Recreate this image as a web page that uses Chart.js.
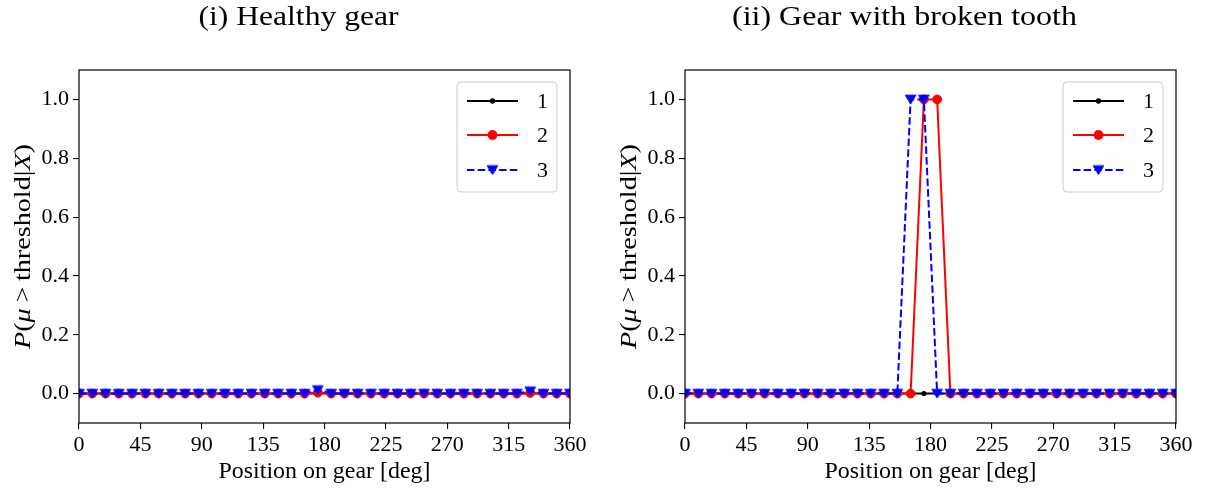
<!DOCTYPE html>
<html>
<head>
<meta charset="utf-8">
<script src="https://cdn.jsdelivr.net/npm/chart.js@4.4.1/dist/chart.umd.min.js"></script>
<style>
html,body{margin:0;padding:0;background:#fff;}
#wrap{position:relative;width:1205px;height:489px;}
canvas{position:absolute;top:0;}
</style>
</head>
<body>
<div id="wrap">
<canvas id="c1" width="602" height="489" style="left:0px"></canvas>
<canvas id="c2" width="603" height="489" style="left:602px"></canvas>
</div>
<script>
// Positions on gear (deg)
const positions = [0, 9.73, 19.46, 29.19, 38.92, 48.65, 58.38, 68.11, 77.84, 87.57,
  97.30, 107.03, 116.76, 126.49, 136.22, 145.95, 155.68, 165.41, 175.14, 184.86,
  194.59, 204.32, 214.05, 223.78, 233.51, 243.24, 252.97, 262.70, 272.43, 282.16,
  291.89, 301.62, 311.35, 321.08, 330.81, 340.54, 350.27, 360];

// (i) Healthy gear
const healthy1 = [0,0,0,0,0,0,0,0,0,0, 0,0,0,0,0,0,0,0,0,0, 0,0,0,0,0,0,0,0,0,0, 0,0,0,0,0,0,0,0];
const healthy2 = [0,0,0,0,0,0,0,0,0,0, 0,0,0,0,0,0,0,0,0.003,0, 0,0,0,0,0,0,0,0,0,0, 0,0,0,0,0.002,0,0,0];
const healthy3 = [0,0,0,0,0,0,0,0,0,0, 0,0,0,0,0,0,0,0,0.012,0, 0,0,0,0,0,0,0,0,0,0, 0,0,0,0,0.008,0,0,0];

// (ii) Gear with broken tooth
const broken1 = [0,0,0,0,0,0,0,0,0,0, 0,0,0,0,0,0,0,0,0,0, 0,0,0,0,0,0,0,0,0,0, 0,0,0,0,0,0,0,0];
const broken2 = [0,0,0,0,0,0,0,0,0,0, 0,0,0,0,0,0,0,0,1,1, 0,0,0,0,0,0,0,0,0,0, 0,0,0,0,0,0,0,0];
const broken3 = [0,0,0,0,0,0,0,0,0,0, 0,0,0,0,0,0,0,1,1,0, 0,0,0,0,0,0,0,0,0,0, 0,0,0,0,0,0,0,0];

const xTicks = [0, 45, 90, 135, 180, 225, 270, 315, 360];
const yTicks = [0.0, 0.2, 0.4, 0.6, 0.8, 1.0];
const seriesLabels = ['1', '2', '3'];
const titles = ['(i) Healthy gear', '(ii) Gear with broken tooth'];
const xLabel = 'Position on gear [deg]';

const FONT = '"Liberation Serif", "Times New Roman", serif';

// down-triangle marker image
function makeTri(){
  const c = document.createElement('canvas');
  c.width = 13; c.height = 13;
  const g = c.getContext('2d');
  g.fillStyle = '#0000ff'; g.strokeStyle = '#0000ff'; g.lineWidth = 1;
  g.beginPath(); g.moveTo(1.2, 2.2); g.lineTo(11.8, 2.2); g.lineTo(6.5, 11); g.closePath();
  g.fill(); g.stroke();
  return c;
}
const triImg = makeTri();

function pts(arr){ return positions.map((x, i) => ({x: x, y: arr[i]})); }

function datasets(s1, s2, s3){
  return [
    {label: seriesLabels[2], data: pts(s3), borderColor: '#0000ff', backgroundColor: '#0000ff',
     borderWidth: 2, borderDash: [7.5, 3.2], pointStyle: triImg, pointRadius: 5, order: 0, clip: 0},
    {label: seriesLabels[1], data: pts(s2), borderColor: '#ff0000', backgroundColor: '#ff0000',
     borderWidth: 2, pointStyle: 'circle', pointRadius: 4.4, pointBorderWidth: 1, order: 1, clip: 0},
    {label: seriesLabels[0], data: pts(s1), borderColor: '#000000', backgroundColor: '#000000',
     borderWidth: 2, pointStyle: 'circle', pointRadius: 2.2, pointBorderWidth: 1, order: 2, clip: 0}
  ];
}

function fitText(ctx, text, x, y, target){
  const w = ctx.measureText(text).width;
  const s = target ? target / w : 1;
  ctx.save(); ctx.translate(x, y); ctx.scale(s, 1);
  ctx.textAlign = 'center'; ctx.fillText(text, 0, 0); ctx.restore();
}

function decorPlugin(title, titleWidth){
  return {
    id: 'decor',
    afterDatasetsDraw(chart){
      const ctx = chart.ctx, ca = chart.chartArea;
      ctx.save();
      ctx.strokeStyle = '#000'; ctx.lineWidth = 1.2;
      ctx.strokeRect(ca.left, ca.top, ca.right - ca.left, ca.bottom - ca.top);
      ctx.restore();
    },
    afterDraw(chart){
      const ctx = chart.ctx, ca = chart.chartArea;
      const cx = (ca.left + ca.right) / 2, cy = (ca.top + ca.bottom) / 2;
      ctx.save();
      ctx.fillStyle = '#000';
      ctx.textBaseline = 'alphabetic';
      // Title
      ctx.font = '28px ' + FONT;
      fitText(ctx, title, cx - 26, 25, titleWidth);
      // X label
      ctx.font = '24px ' + FONT;
      fitText(ctx, xLabel, cx, 478, 212);
      // Y label with math italics
      const parts = [
        ['P', true], ['(', false], ['\u03BC', true], ['\u2009>\u2009', false],
        ['threshold', false], ['|', false], ['X', true], [')', false]
      ];
      let total = 0;
      const widths = parts.map(p => {
        ctx.font = (p[1] ? 'italic ' : '') + '24px ' + FONT;
        const w = ctx.measureText(p[0]).width; total += w; return w;
      });
      const target = 205, sc = target / total;
      ctx.translate(ca.left - 57 + 8, cy);
      ctx.rotate(-Math.PI / 2);
      ctx.scale(sc, 1);
      let xx = -total / 2;
      ctx.textAlign = 'left';
      parts.forEach((p, i) => {
        ctx.font = (p[1] ? 'italic ' : '') + '24px ' + FONT;
        ctx.fillText(p[0], xx, 0);
        xx += widths[i];
      });
      ctx.restore();

      // Legend
      ctx.save();
      const bx = ca.right - 113, by = ca.top + 12, bw = 100, bh = 110, r = 4;
      ctx.beginPath();
      ctx.moveTo(bx + r, by); ctx.lineTo(bx + bw - r, by); ctx.quadraticCurveTo(bx + bw, by, bx + bw, by + r);
      ctx.lineTo(bx + bw, by + bh - r); ctx.quadraticCurveTo(bx + bw, by + bh, bx + bw - r, by + bh);
      ctx.lineTo(bx + r, by + bh); ctx.quadraticCurveTo(bx, by + bh, bx, by + bh - r);
      ctx.lineTo(bx, by + r); ctx.quadraticCurveTo(bx, by, bx + r, by);
      ctx.closePath();
      ctx.fillStyle = 'rgba(255,255,255,0.8)'; ctx.fill();
      ctx.strokeStyle = '#cccccc'; ctx.lineWidth = 1; ctx.stroke();
      const rows = [ca.top + 31, ca.top + 65, ca.top + 100];
      const lx0 = ca.right - 103, lx1 = ca.right - 52, mx = ca.right - 77.5;
      const cols = ['#000000', '#ff0000', '#0000ff'];
      rows.forEach((yy, i) => {
        ctx.strokeStyle = cols[i]; ctx.lineWidth = 2;
        ctx.setLineDash(i === 2 ? [7.5, 3.2] : []);
        ctx.beginPath(); ctx.moveTo(lx0, yy); ctx.lineTo(lx1, yy); ctx.stroke();
        ctx.setLineDash([]);
        ctx.fillStyle = cols[i];
        if (i === 2) {
          ctx.drawImage(triImg, mx - 6.5, yy - 6.5);
        } else {
          const rad = i === 0 ? 2.7 : 4.9;
          ctx.beginPath(); ctx.arc(mx, yy, rad, 0, Math.PI * 2); ctx.fill();
        }
        ctx.fillStyle = '#000';
        ctx.font = '22px ' + FONT;
        ctx.textAlign = 'left'; ctx.textBaseline = 'middle';
        ctx.fillText(seriesLabels[i], ca.right - 33, yy + 1);
      });
      ctx.restore();
    }
  };
}

function makeChart(id, s1, s2, s3, title, titleWidth, padRight, yWidth){
  return new Chart(document.getElementById(id), {
    type: 'line',
    data: {datasets: datasets(s1, s2, s3)},
    options: {
      responsive: false, animation: false, devicePixelRatio: 1, events: [],
      layout: {padding: {left: 0, right: padRight, top: 70, bottom: 0}},
      plugins: {legend: {display: false}, tooltip: {enabled: false}, title: {display: false}},
      elements: {line: {tension: 0}},
      scales: {
        x: {
          type: 'linear', min: 0, max: 360,
          afterBuildTicks(s){ s.ticks = xTicks.map(v => ({value: v})); },
          afterFit(s){ s.height = 66; },
          grid: {display: true, drawOnChartArea: false, drawTicks: true, tickLength: 6, color: '#000', lineWidth: 1.1},
          border: {display: false},
          ticks: {color: '#000', font: {family: FONT, size: 22}, padding: 3, maxRotation: 0, autoSkip: false,
                  callback: v => String(v)}
        },
        y: {
          type: 'linear', min: -0.1, max: 1.1,
          afterBuildTicks(s){ s.ticks = yTicks.map(v => ({value: v})); },
          afterFit(s){ s.width = yWidth; },
          grid: {display: true, drawOnChartArea: false, drawTicks: true, tickLength: 6, color: '#000', lineWidth: 1.1},
          border: {display: false},
          ticks: {color: '#000', font: {family: FONT, size: 22}, padding: 4, autoSkip: false,
                  callback: v => Number(v).toFixed(1)}
        }
      }
    },
    plugins: [decorPlugin(title, titleWidth)]
  });
}

makeChart('c1', healthy1, healthy2, healthy3, titles[0], 200, 32, 79);
makeChart('c2', broken1, broken2, broken3, titles[1], 345, 29, 83);
</script>
</body>
</html>
